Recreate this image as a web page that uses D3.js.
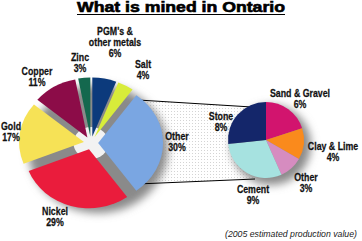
<!DOCTYPE html>
<html>
<head>
<meta charset="utf-8">
<script src="https://cdn.jsdelivr.net/npm/d3@7"></script>
<style>
  body { margin: 0; background: #fff; }
  svg { display: block; }
  .lbl { font-family: "Liberation Sans", Arial, sans-serif; font-weight: bold; font-size: 11px; fill: #111; stroke: #111; stroke-width: 0.25; }
</style>
</head>
<body>
<div id="chart"></div>
<script>
// main pie data
const mainNames = ["PGM's & other metals", "Salt", "Other", "Nickel", "Gold", "Copper", "Zinc"];
const mainValues = [6, 4, 30, 29, 17, 11, 3];
const mainColors = ["#0c3a7c", "#d8ec3a", "#7aa6e2", "#ea1c3c", "#f6e256", "#8c0c48", "#14684e"];

// breakdown of "Other"
const otherNames = ["Sand & Gravel", "Clay & Lime", "Other", "Cement", "Stone"];
const otherValues = [6, 4, 3, 9, 8];
const otherColors = ["#d2146e", "#fa8a1c", "#d68cc0", "#a6e2e0", "#14266a"];

const width = 362, height = 241;

const svg = d3.select("#chart")
  .append("svg")
    .attr("width", width)
    .attr("height", height);

const defs = svg.append("defs");
defs.append("filter")
    .attr("id", "blur")
    .attr("x", "-30%").attr("y", "-30%").attr("width", "160%").attr("height", "160%")
  .append("feGaussianBlur")
    .attr("stdDeviation", 4);

const dots = defs.append("pattern")
    .attr("id", "dots")
    .attr("width", 3).attr("height", 3)
    .attr("patternUnits", "userSpaceOnUse");
dots.append("rect").attr("width", 3).attr("height", 3).attr("fill", "#fff");
dots.append("rect").attr("width", 1).attr("height", 1).attr("fill", "#d4d4d4");

// title
svg.append("text")
    .attr("x", width / 2)
    .attr("y", 12)
    .attr("text-anchor", "middle")
    .attr("textLength", 208)
    .attr("lengthAdjust", "spacingAndGlyphs")
    .style("font-family", "'Liberation Sans', Arial, sans-serif")
    .style("font-weight", 900)
    .style("font-size", "14px")
    .style("stroke", "#000")
    .style("stroke-width", 0.6)
    .text("What is mined in Ontario");
svg.append("line")
    .attr("x1", 77).attr("x2", 285)
    .attr("y1", 14.5).attr("y2", 14.5)
    .attr("stroke", "#000")
    .attr("stroke-width", 1.2);

const main = {cx: 91, cy: 143, r: 59, sx: 1.1, explode: 6.5};
const small = {cx: 266, cy: 140, r: 38};

// band between the two pies
svg.append("path")
    .attr("d", `M138,100 L252,107 L255,179 L137,184 Z`)
    .attr("fill", "url(#dots)");

// shadows
svg.append("ellipse")
    .attr("cx", main.cx + 7).attr("cy", main.cy + 6)
    .attr("rx", main.r * main.sx + 5).attr("ry", main.r + 5)
    .attr("fill", "#8a8a8a")
    .attr("filter", "url(#blur)");
svg.append("circle")
    .attr("cx", small.cx + 5).attr("cy", small.cy + 5)
    .attr("r", small.r + 2)
    .attr("fill", "#8a8a8a")
    .attr("filter", "url(#blur)");

// connector lines
svg.append("line")
    .attr("x1", 138).attr("y1", 100).attr("x2", 252).attr("y2", 107)
    .attr("stroke", "#000").attr("stroke-width", 1);
svg.append("line")
    .attr("x1", 137).attr("y1", 184).attr("x2", 255).attr("y2", 179)
    .attr("stroke", "#000").attr("stroke-width", 1);

const pie = d3.pie().sort(null).value(d => d);

// main exploded pie
const mainArc = d3.arc().innerRadius(0).outerRadius(main.r);
const mg = svg.append("g")
    .attr("transform", `translate(${main.cx},${main.cy}) scale(${main.sx},1)`);

// light centre where the slices pull apart
mg.append("circle").attr("r", 16).attr("fill", "#f2f2f2");

mg.selectAll("path")
  .data(pie(mainValues))
  .join("path")
    .attr("d", mainArc)
    .attr("fill", (d, i) => mainColors[i])
    .attr("transform", d => {
      const a = (d.startAngle + d.endAngle) / 2;
      return `translate(${Math.sin(a) * main.explode},${-Math.cos(a) * main.explode})`;
    });

// small pie
const smallArc = d3.arc().innerRadius(0).outerRadius(small.r);
svg.append("g")
    .attr("transform", `translate(${small.cx},${small.cy})`)
  .selectAll("path")
  .data(pie(otherValues))
  .join("path")
    .attr("d", smallArc)
    .attr("fill", (d, i) => otherColors[i]);

// labels
const mainLabels = [
  {lines: ["PGM's &", "other metals", "6%"], x: 115, y: 35},
  {lines: ["Salt", "4%"], x: 143, y: 68},
  {lines: ["Other", "30%"], x: 177, y: 140},
  {lines: ["Nickel", "29%"], x: 55, y: 215},
  {lines: ["Gold", "17%"], x: 11, y: 130},
  {lines: ["Copper", "11%"], x: 37, y: 75},
  {lines: ["Zinc", "3%"], x: 80, y: 61}
];
const otherLabels = [
  {lines: ["Sand & Gravel", "6%"], x: 300, y: 97},
  {lines: ["Clay & Lime", "4%"], x: 333, y: 150},
  {lines: ["Other", "3%"], x: 306, y: 181},
  {lines: ["Cement", "9%"], x: 253, y: 193},
  {lines: ["Stone", "8%"], x: 221, y: 120}
];

svg.selectAll("g.lbl-g")
  .data(mainLabels.concat(otherLabels))
  .join("g")
    .attr("class", "lbl-g")
    .attr("transform", d => `translate(${d.x},${d.y}) scale(0.8,1)`)
  .append("text")
    .attr("class", "lbl")
    .attr("text-anchor", "middle")
    .each(function(d) {
      d3.select(this).selectAll("tspan")
        .data(d.lines)
        .join("tspan")
          .attr("x", 0)
          .attr("y", (l, i) => i * 11)
          .text(l => l);
    });

svg.append("text")
    .attr("x", 291)
    .attr("y", 237)
    .attr("text-anchor", "middle")
    .attr("textLength", 132)
    .attr("lengthAdjust", "spacingAndGlyphs")
    .style("font-family", "'Liberation Sans', Arial, sans-serif")
    .style("font-style", "italic")
    .style("font-size", "9px")
    .attr("fill", "#222")
    .text("(2005 estimated production value)");
</script>
</body>
</html>
